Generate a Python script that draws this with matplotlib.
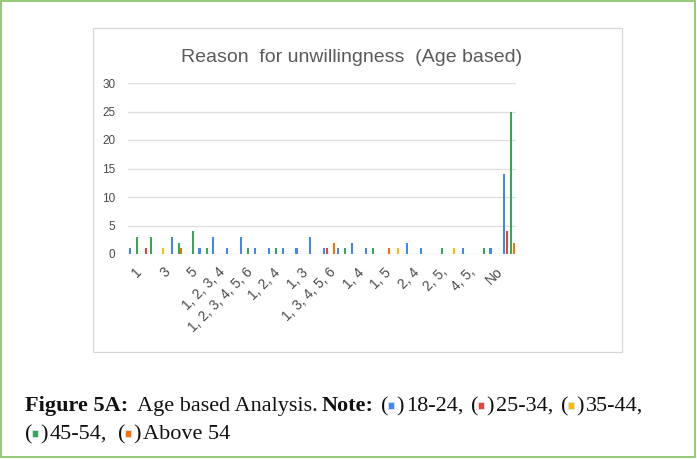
import numpy as np
import matplotlib.pyplot as plt
from matplotlib.patches import Rectangle

W, H = 697, 459

# categories (only every other one is labelled in the chart)
categories = ['1', '2', '3', '4', '5', '1, 2', '1, 2, 3, 4', '1, 2, 3, 4, 5',
              '1, 2, 3, 4, 5, 6', '1, 2, 3, 5', '1, 2, 4', '1, 2, 5', '1, 3',
              '1, 3, 4', '1, 3, 4, 5, 6', '1, 3, 5', '1, 4', '1, 4, 5', '1, 5',
              '2, 3', '2, 4', '2, 4, 5', '2, 5,', '3, 4', '4, 5,', '5, 6', 'No', 'None']

age_18_24 = [1, 0, 0, 3, 0, 1, 3, 1, 3, 1, 1, 1, 1, 3, 1, 1, 2, 1, 0, 0, 2, 1, 0, 0, 1, 0, 1, 14]
age_25_34 = [0, 1, 0, 0, 0, 0, 0, 0, 0, 0, 0, 0, 0, 0, 1, 0, 0, 0, 0, 0, 0, 0, 0, 0, 0, 0, 0, 4]
age_35_44 = [0, 0, 1, 0, 0, 0, 0, 0, 0, 0, 0, 0, 0, 0, 0, 0, 0, 0, 0, 1, 0, 0, 0, 1, 0, 0, 0, 0]
age_45_54 = [3, 3, 0, 2, 4, 1, 0, 0, 1, 0, 1, 0, 0, 0, 0, 1, 0, 1, 0, 0, 0, 0, 1, 0, 0, 1, 0, 25]
age_above_54 = [0, 0, 0, 1, 0, 0, 0, 0, 0, 0, 0, 0, 0, 0, 2, 0, 0, 0, 1, 0, 0, 0, 0, 0, 0, 0, 0, 2]

series = [age_18_24, age_25_34, age_35_44, age_45_54, age_above_54]
series_names = ['18-24,', '25-34,', '35-44,', '45-54,', 'Above 54']
colors = ['#4285F4', '#EA4335', '#FBBC04', '#34A853', '#FF6D01']

fig = plt.figure(figsize=(W / 100, H / 100), dpi=100)


def fx(x):
    return x / W


def fy(y):
    return 1 - y / H


# outer green frame and inner chart box
fig.patches.append(Rectangle((fx(1), fy(457)), fx(694), 456 / H, transform=fig.transFigure,
                             fill=False, edgecolor='#8fc46c', linewidth=1.3))
fig.patches.append(Rectangle((fx(93), fy(352)), fx(529), 324 / H, transform=fig.transFigure,
                             fill=False, edgecolor='#d6d6d6', linewidth=0.9))

ax = fig.add_axes([fx(128), fy(254), fx(388), 171 / H])
x = np.arange(len(categories))
for k, vals in enumerate(series):
    ax.bar(x + (k - 2) * 0.17, vals, width=0.15, color=colors[k], linewidth=0, zorder=3)

ax.set_xlim(-0.5, len(categories) - 0.5)
ax.set_ylim(0, 30)
ax.set_yticks(range(0, 31, 5))
ax.grid(axis='y', color='#dedede', linewidth=0.9, zorder=0)
for s in ax.spines.values():
    s.set_visible(False)
ax.tick_params(length=0, labelcolor='#4a4a4a')
ax.tick_params(axis='y', pad=9, labelsize=8.5)
for lab in ax.get_yticklabels():
    lab.set_family('Liberation Sans')
ax.set_xticks(x)
ax.set_xticklabels([c if i % 2 == 0 else '' for i, c in enumerate(categories)],
                   rotation=45, ha='right', rotation_mode='anchor', fontsize=10,
                   family='Liberation Sans')
ax.tick_params(axis='x', pad=8)

fig.text(fx(352), fy(58), 'Reason  for unwillingness  (Age based)', ha='center', va='center',
         fontsize=14, color='#5a5a5a', family='Liberation Sans')

# caption
cap = dict(family='Liberation Serif', fontsize=16, color='#111111', va='baseline')
fig.text(fx(25), fy(411), 'Figure 5A:', fontweight='bold', **cap)
fig.text(fx(137), fy(411), 'Age based Analysis.', **cap)
fig.text(fx(322), fy(411), 'Note:', fontweight='bold', **cap)

entries = [(381, 411), (471, 411), (561, 411), (25, 439), (118, 439)]
for (ex, ey), name, col in zip(entries, series_names, colors):
    fig.text(fx(ex), fy(ey), '(', **cap)
    fig.text(fx(ex + 15), fy(ey), ')', **cap)
    fig.patches.append(Rectangle((fx(ex + 7), fy(ey - 2)), 6 / W, 7 / H, transform=fig.transFigure,
                                 facecolor=col, edgecolor='#dbe7f5', linewidth=0.6))
    fig.text(fx(ex + 25), fy(ey), name, **cap)

fig.savefig('out.png', dpi=100)
